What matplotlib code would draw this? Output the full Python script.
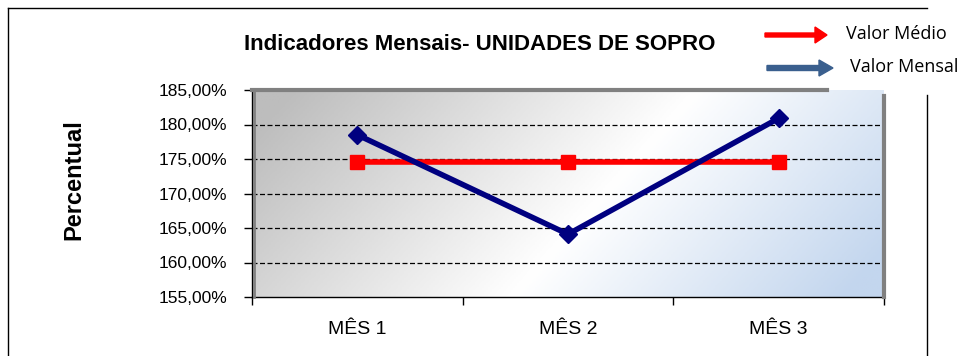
import numpy as np
import matplotlib.pyplot as plt
from matplotlib.colors import LinearSegmentedColormap
from matplotlib.patches import FancyArrow
from matplotlib.ticker import FuncFormatter

meses = ['MÊS 1', 'MÊS 2', 'MÊS 3']
valor_mensal = [178.5, 164.1, 180.9]
valor_medio = [174.5, 174.5, 174.5]
y_ticks = [155, 160, 165, 170, 175, 180, 185]

plt.rcParams['font.family'] = ['Liberation Sans', 'DejaVu Sans']

W, H = 964, 356
fig = plt.figure(figsize=(W / 100, H / 100), dpi=100)
ax = fig.add_axes([252 / W, 1 - 297 / H, 632 / W, 207 / H])

# background gradient: gray on the left, white in the middle, light blue bottom right
xs = np.linspace(0, 1, 300)
ys = np.linspace(0, 1, 120)
X, Y = np.meshgrid(xs, ys)
t = np.clip(0.85 * X + 0.25 * Y - 0.05, 0, 1)
cmap = LinearSegmentedColormap.from_list(
    'fundo', [(0, '#bdbdbd'), (0.55, '#ffffff'), (1, '#c3d6ee')])
ax.imshow(t, cmap=cmap, extent=[0, 3, 155, 185], aspect='auto',
          origin='upper', zorder=0)

x = np.arange(len(meses)) + 0.5
for v in y_ticks[1:-1]:
    ax.axhline(v, color='black', lw=0.9, ls=(0, (4, 2)), zorder=1)

ax.plot(x, valor_medio, color='#ff0000', lw=4, marker='s', ms=10, zorder=3)
ax.plot(x, valor_mensal, color='#000080', lw=4, marker='D', ms=9, zorder=4)

ax.set_xlim(0, 3)
ax.set_ylim(155, 185)
ax.set_yticks(y_ticks)
ax.yaxis.set_major_formatter(FuncFormatter(lambda v, p: f'{v:.2f}%'.replace('.', ',')))
ax.set_xticks([0, 1, 2, 3])
ax.set_xticklabels([])
ax.set_xticks(x, minor=True)
ax.set_xticklabels(meses, minor=True, fontsize=14)
ax.tick_params(axis='x', which='minor', length=0, pad=17)
ax.tick_params(axis='x', which='major', direction='out', length=6, width=1)
ax.tick_params(axis='y', direction='out', length=6, width=1, labelsize=12.5, pad=12)

for side in ['top', 'right']:
    ax.spines[side].set_visible(False)
ax.spines['left'].set_linewidth(1)
ax.spines['bottom'].set_linewidth(1)
# gray plot-area border
ax.plot([0, 2.73], [185, 185], color='#808080', lw=3, clip_on=False, zorder=5)
ax.plot([3, 3], [155, 184.2], color='#808080', lw=3, clip_on=False, zorder=5)
ax.plot([0.008, 0.008], [155, 185], color='#808080', lw=2, clip_on=False, zorder=5)

ax.set_ylabel('Percentual', fontsize=17, fontweight='bold')
ax.yaxis.set_label_coords((85 - 252) / 632, (297 - 180) / 207)

fig.text(480 / W, 1 - 45 / H, 'Indicadores Mensais- UNIDADES DE SOPRO',
         ha='center', va='center', fontsize=16, fontweight='bold')

# outer frame
fig.add_artist(plt.Line2D([8 / W, 8 / W], [0, 1 - 8 / H], color='black', lw=1))
fig.add_artist(plt.Line2D([8 / W, 927 / W], [1 - 8 / H, 1 - 8 / H], color='black', lw=1))
fig.add_artist(plt.Line2D([927 / W, 927 / W], [0, 1 - 95 / H], color='black', lw=1))

# legend drawn as arrows with labels
fig.patches.append(FancyArrow(
    765 / W, 1 - 35 / H, 50 / W, 0, width=4 / H, head_width=16 / H,
    head_length=12 / W, color='#ff0000', transform=fig.transFigure))
fig.patches.append(FancyArrow(
    767 / W, 1 - 68 / H, 52 / W, 0, width=5 / H, head_width=16 / H,
    head_length=14 / W, color='#3a5f8e', transform=fig.transFigure))
fig.text(846 / W, 1 - 34 / H, 'Valor Médio', fontsize=13, va='center',
         family=['Open Sans', 'DejaVu Sans'])
fig.text(850 / W, 1 - 67 / H, 'Valor Mensal', fontsize=13, va='center',
         family=['Open Sans', 'DejaVu Sans'])

fig.savefig('out.png', dpi=100)
